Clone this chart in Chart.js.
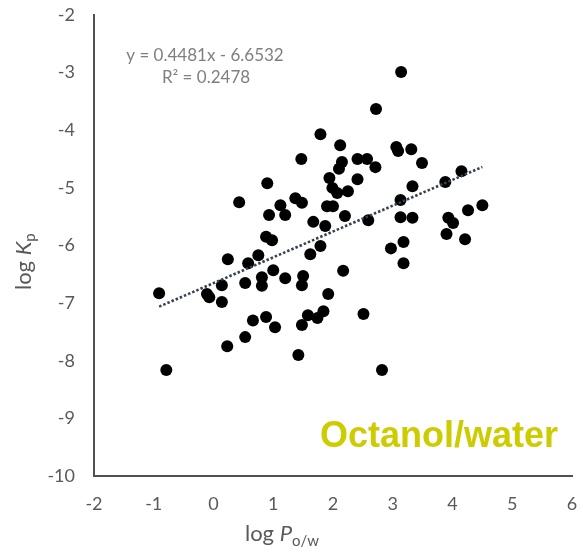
<!DOCTYPE html>
<html>
<head>
<meta charset="utf-8">
<script src="https://cdn.jsdelivr.net/npm/chart.js@4/dist/chart.umd.min.js"></script>
<style>
  html, body { margin: 0; padding: 0; background: #ffffff; }
  #wrap { width: 583px; height: 557px; position: relative; }
</style>
</head>
<body>
<div id="wrap"><canvas id="chart" width="583" height="557"></canvas></div>
<script>
// Octanol/water partition coefficient (log P o/w) vs permeability coefficient (log Kp)
const logPow = [
  3.14, 2.72, 1.79, 2.12, 1.47, 3.06, 3.09, 3.31, 3.49, 2.71,
  3.33, 3.88, 4.15, 3.13, 3.13, 3.33, 3.93, 4.01, 4.26, 4.50,
  3.90, 4.21, 3.18, 2.97, 3.18, 1.12, 1.20, 1.90, 2.00, 2.20,
  0.93, 1.67, 1.87, 2.59, 0.88, 0.98, 1.79, 1.62, 1.00, 1.20,
  1.50, 1.48, 2.17, 1.92, 0.88, 1.03, 1.58, 1.74, 1.84, 1.48,
  2.51, 1.42, 2.82, 2.15, 2.10, 2.41, 2.57, 0.90, 1.94, 1.99,
  2.07, 2.25, 2.41, 1.37, 1.48, 0.43, 0.24, 0.58, 0.75, -0.91,
  -0.11, -0.07, 0.14, 0.14, 0.53, 0.81, 0.81, 0.66, 0.53, 0.23,
  -0.79
];
const logKp = [
  -2.99, -3.63, -4.07, -4.26, -4.50, -4.29, -4.36, -4.33, -4.57, -4.64,
  -4.97, -4.90, -4.71, -5.21, -5.51, -5.52, -5.52, -5.61, -5.39, -5.30,
  -5.80, -5.89, -5.94, -6.05, -6.31, -5.30, -5.47, -5.32, -5.32, -5.49,
  -5.47, -5.59, -5.66, -5.56, -5.85, -5.91, -6.01, -6.15, -6.43, -6.57,
  -6.53, -6.69, -6.44, -6.84, -7.24, -7.42, -7.21, -7.26, -7.14, -7.38,
  -7.19, -7.90, -8.16, -4.55, -4.67, -4.50, -4.50, -4.92, -4.83, -5.00,
  -5.09, -5.06, -4.85, -5.18, -5.26, -5.25, -6.24, -6.31, -6.17, -6.83,
  -6.84, -6.90, -6.69, -6.98, -6.65, -6.55, -6.70, -7.30, -7.59, -7.75,
  -8.16
];

// Linear least-squares fit reported on the plot
const slope = 0.4481;
const intercept = -6.6532;
const rSquared = 0.2478;

const xTicks = [-2, -1, 0, 1, 2, 3, 4, 5, 6];
const yTicks = [-10, -9, -8, -7, -6, -5, -4, -3, -2];

const points = logPow.map((x, i) => ({ x: x, y: logKp[i] }));
const xMin = Math.min(...logPow);
const xMax = Math.max(...logPow);
const trend = [xMin, xMax].map(x => ({ x: x, y: slope * x + intercept }));

const FONT = 'Lato, "Open Sans", sans-serif';

// Draws a run of text pieces with individual font / baseline offsets
function drawRuns(ctx, runs, x, y) {
  let cx = x;
  runs.forEach(r => {
    ctx.font = r.font;
    ctx.fillText(r.text, cx, y + (r.dy || 0));
    cx += ctx.measureText(r.text).width;
  });
}

const labelsPlugin = {
  id: 'labels',
  afterDraw(chart) {
    const ctx = chart.ctx;
    ctx.save();
    ctx.textBaseline = 'alphabetic';

    // regression equation
    ctx.fillStyle = '#7f7f7f';
    ctx.textAlign = 'center';
    ctx.font = '17px ' + FONT;
    ctx.fillText('y = ' + slope.toFixed(4) + 'x - ' + Math.abs(intercept).toFixed(4), 205, 61);
    ctx.fillText('R\u00B2 = ' + rSquared.toFixed(4), 206, 83);

    // axis titles
    ctx.textAlign = 'left';
    ctx.fillStyle = '#595959';
    drawRuns(ctx, [
      { text: 'log ', font: '22px ' + FONT },
      { text: 'P', font: 'italic 22px ' + FONT },
      { text: 'o/w', font: '15px ' + FONT, dy: 5 }
    ], 245, 541);

    ctx.save();
    ctx.translate(31, 290);
    ctx.rotate(-Math.PI / 2);
    drawRuns(ctx, [
      { text: 'log ', font: '22px ' + FONT },
      { text: 'K', font: 'italic 22px ' + FONT },
      { text: 'p', font: '15px ' + FONT, dy: 4 }
    ], 0, 0);
    ctx.restore();

    // panel label
    ctx.fillStyle = '#cccc00';
    ctx.font = 'bold 36px "Liberation Sans", Arial, sans-serif';
    ctx.fillText('Octanol/water', 320, 447);
    ctx.restore();
  }
};

// fixed axis boxes: no extra room reserved for tick label overhang
function fixX(s) { s.height = 81; s.paddingLeft = 0; s.paddingRight = 0; }
function fixY(s) { s.width = 94; s.paddingTop = 0; s.paddingBottom = 0; }

new Chart(document.getElementById('chart'), {
  type: 'scatter',
  data: {
    datasets: [
      {
        type: 'line',
        data: trend,
        borderColor: '#354252',
        borderWidth: 2.6,
        borderDash: [2.5, 2],
        borderCapStyle: 'butt',
        pointRadius: 0,
        fill: false,
        order: 0
      },
      {
        data: points,
        backgroundColor: '#000000',
        borderWidth: 0,
        pointRadius: 6,
        order: 1
      }
    ]
  },
  options: {
    responsive: false,
    animation: false,
    events: [],
    layout: { autoPadding: false, padding: { top: 15, right: 11, bottom: 0, left: 0 } },
    plugins: { legend: { display: false }, tooltip: { enabled: false } },
    scales: {
      x: {
        type: 'linear',
        min: xTicks[0],
        max: xTicks[xTicks.length - 1],
        afterBuildTicks: s => { s.ticks = xTicks.map(v => ({ value: v })); },
        afterFit: fixX,
        grid: { display: false, drawTicks: false },
        border: { display: true, color: '#505050', width: 2 },
        ticks: { color: '#595959', font: { family: FONT, size: 18 }, padding: 17, maxRotation: 0 }
      },
      y: {
        type: 'linear',
        min: yTicks[0],
        max: yTicks[yTicks.length - 1],
        afterBuildTicks: s => { s.ticks = yTicks.map(v => ({ value: v })); },
        afterFit: fixY,
        grid: { display: false, drawTicks: false },
        border: { display: true, color: '#505050', width: 2 },
        ticks: { color: '#595959', font: { family: FONT, size: 18 }, padding: 19 }
      }
    }
  },
  plugins: [labelsPlugin]
});
</script>
</body>
</html>
